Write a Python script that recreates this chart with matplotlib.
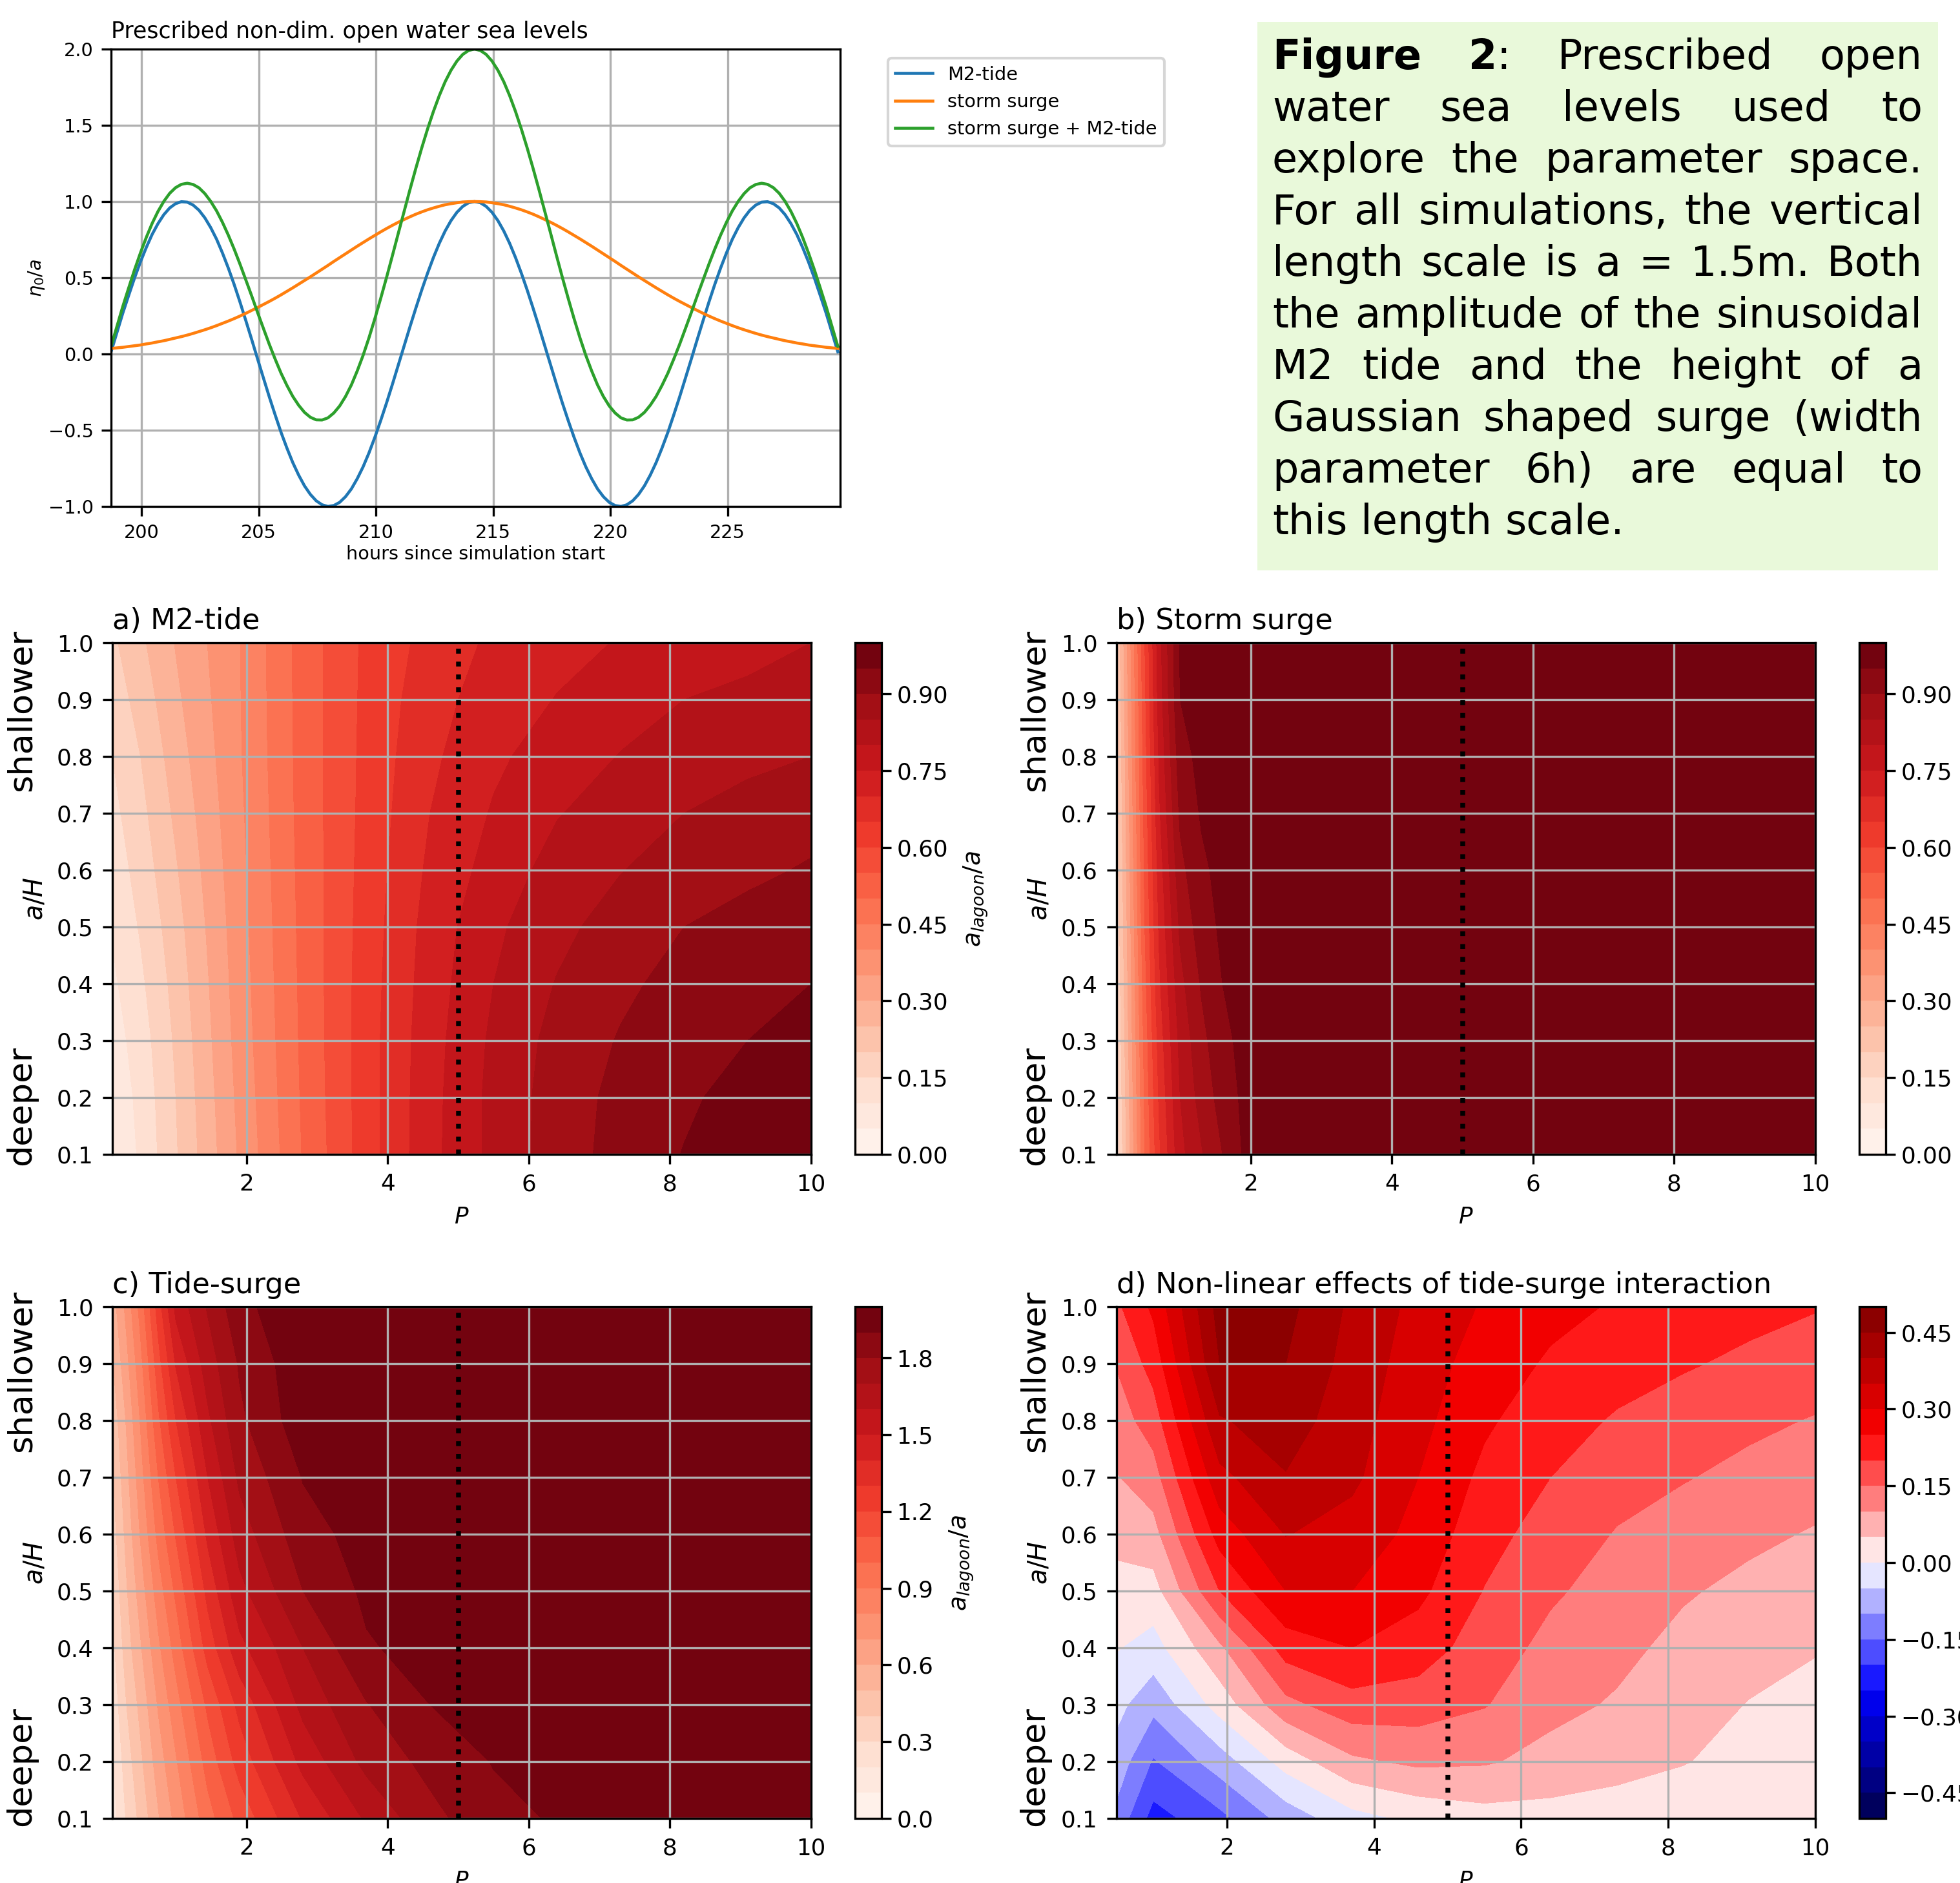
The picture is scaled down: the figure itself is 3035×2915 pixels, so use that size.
import numpy as np
import matplotlib
matplotlib.use("Agg")
import matplotlib.pyplot as plt
from matplotlib.ticker import FuncFormatter

W, H = 3036, 2915

# top panel, read every quarter hour up to the peak at 214.2, the curves are symmetric about it
hours = np.arange(198.7, 229.71, 0.25)
m2_rising = [.014, .141, .268, .384, .498, .603, .698, .784, .855, .914, .958, .986, .999, .996, .977, .943,
             .893, .829, .753, .663, .564, .456, .340, .218, .094, -.033, -.158, -.282, -.400, -.514, -.617,
             -.712, -.794, -.865, -.921, -.963, -.989, -1.000, -.994, -.973, -.936, -.885, -.818, -.740,
             -.649, -.547, -.437, -.321, -.199, -.073, .053, .179, .301, .419, .530, .633, .726, .807, .875,
             .929, .968, .992, 1.000]
surge_rising = [.036, .040, .044, .049, .054, .059, .066, .072, .080, .087, .096, .105, .114, .124, .135, .147,
                .159, .172, .186, .201, .216, .232, .249, .267, .286, .305, .325, .345, .366, .388, .411, .434,
                .458, .482, .506, .531, .556, .581, .607, .632, .657, .682, .707, .731, .755, .778, .801, .823,
                .844, .864, .882, .900, .917, .932, .946, .958, .969, .979, .986, .992, .997, .999, 1.000]
both_rising = [.050, .181, .312, .433, .552, .662, .764, .856, .935, 1.001, 1.054, 1.091, 1.113, 1.120, 1.112,
               1.090, 1.052, 1.001, .939, .864, .780, .688, .589, .485, .380, .272, .167, .063, -.034, -.126,
               -.206, -.278, -.336, -.383, -.415, -.432, -.433, -.419, -.387, -.341, -.279, -.203, -.111, -.009,
               .106, .231, .364, .502, .645, .791, .935, 1.079, 1.218, 1.351, 1.476, 1.591, 1.695, 1.786, 1.861,
               1.921, 1.965, 1.991, 2.000]
m2_tide = m2_rising + m2_rising[-2::-1]
storm_surge = surge_rising + surge_rising[-2::-1]
both = both_rising + both_rising[-2::-1]

a_over_h = [0.1, 0.2, 0.3, 0.4, 0.5, 0.6, 0.7, 0.8, 0.9, 1.0]

# a) M2-tide
p_a = [0.1, 0.5, 1, 1.9, 2.8, 3.7, 4.6, 5.5, 6.4, 7.3, 8.2, 9.1, 10]
z_a = [[.045, .109, .195, .356, .503, .627, .735, .814, .875, .919, .952, .975, .99],
       [.06, .115, .20, .363, .507, .628, .733, .815, .873, .915, .942, .968, .985],
       [.075, .125, .208, .37, .51, .628, .73, .81, .867, .904, .93, .95, .97],
       [.09, .14, .218, .375, .512, .626, .725, .80, .853, .89, .917, .936, .95],
       [.105, .155, .23, .38, .514, .623, .72, .79, .836, .873, .90, .917, .932],
       [.12, .17, .245, .385, .516, .62, .71, .77, .82, .848, .875, .89, .905],
       [.135, .185, .26, .39, .518, .617, .70, .755, .797, .825, .85, .868, .882],
       [.15, .20, .275, .395, .519, .615, .69, .74, .775, .802, .82, .838, .85],
       [.17, .22, .29, .397, .52, .613, .68, .725, .752, .78, .80, .812, .825],
       [.19, .24, .303, .398, .521, .611, .667, .71, .735, .753, .767, .783, .80]]

# b) Storm surge
p_b = [0.1, 0.3, 0.5, 0.7, 1, 1.3, 1.6, 1.9, 2.8, 10]
z_b = [[.12, .31, .50, .64, .785, .845, .90, .955, .985, 1],
       [.13, .32, .51, .655, .80, .87, .92, .96, .985, 1],
       [.14, .33, .52, .67, .815, .885, .935, .965, .985, 1],
       [.15, .34, .535, .69, .835, .905, .95, .97, .99, 1],
       [.16, .35, .55, .705, .86, .925, .96, .975, .99, 1],
       [.165, .36, .56, .72, .885, .94, .965, .98, .99, 1],
       [.175, .37, .57, .74, .91, .955, .97, .98, .99, 1],
       [.18, .38, .58, .755, .93, .965, .975, .985, .99, 1],
       [.19, .39, .59, .77, .95, .97, .98, .985, .99, 1],
       [.20, .40, .60, .78, .955, .97, .98, .985, .99, 1]]

# c) Tide-surge
p_c = [0.1, 0.3, 0.5, 0.75, 1, 1.45, 1.9, 2.8, 3.7, 4.6, 5.5, 6.4, 7.3, 10]
z_c = [[.15, .31, .43, .59, .73, .96, 1.13, 1.41, 1.615, 1.77, 1.87, 1.91, 1.95, 1.98],
       [.19, .35, .48, .65, .79, 1.04, 1.24, 1.53, 1.73, 1.83, 1.905, 1.94, 1.96, 1.985],
       [.23, .40, .53, .71, .86, 1.12, 1.33, 1.63, 1.795, 1.90, 1.94, 1.96, 1.975, 1.99],
       [.27, .45, .59, .78, .94, 1.24, 1.47, 1.70, 1.89, 1.935, 1.96, 1.975, 1.985, 1.99],
       [.31, .49, .65, .85, 1.02, 1.33, 1.57, 1.80, 1.92, 1.95, 1.97, 1.98, 1.99, 1.995],
       [.35, .53, .71, .93, 1.11, 1.42, 1.65, 1.86, 1.94, 1.96, 1.975, 1.985, 1.99, 1.995],
       [.39, .57, .76, 1.0, 1.2, 1.50, 1.72, 1.905, 1.95, 1.97, 1.98, 1.99, 1.99, 2.0],
       [.43, .61, .81, 1.08, 1.3, 1.58, 1.78, 1.96, 1.97, 1.975, 1.985, 1.99, 1.995, 2.0],
       [.49, .67, .87, 1.16, 1.41, 1.65, 1.81, 1.97, 1.98, 1.985, 1.99, 1.99, 1.995, 2.0],
       [.55, .73, .94, 1.25, 1.53, 1.71, 1.87, 1.98, 1.985, 1.99, 1.99, 1.995, 2.0, 2.0]]

# d) Non-linear effects
p_d = [0.5, 1, 1.9, 2.8, 3.7, 4.6, 5.5, 6.4, 7.3, 8.2, 9.1, 10]
z_d = [[-.115, -.22, -.165, -.08, -.018, .012, .03, .03, .025, .012, .005, .002],
       [-.07, -.155, -.075, .02, .09, .11, .105, .085, .068, .053, .03, .02],
       [-.035, -.085, .02, .135, .18, .175, .153, .113, .095, .07, .048, .04],
       [.003, -.02, .09, .222, .25, .225, .175, .136, .112, .087, .068, .052],
       [.032, .03, .20, .30, .30, .262, .198, .157, .13, .105, .088, .075],
       [.065, .082, .27, .352, .33, .285, .218, .178, .147, .128, .11, .096],
       [.097, .128, .335, .397, .36, .30, .238, .20, .168, .153, .137, .12],
       [.125, .175, .395, .425, .37, .315, .258, .22, .195, .177, .16, .147],
       [.153, .22, .45, .45, .38, .325, .277, .243, .22, .205, .19, .175],
       [.19, .26, .47, .465, .39, .335, .295, .265, .245, .23, .215, .203]]

levels_ab = np.arange(0, 1.001, 0.05)
levels_c = np.arange(0, 2.001, 0.1)
levels_d = np.arange(-0.5, 0.5001, 0.05)
ticks_ab = [0, .15, .30, .45, .60, .75, .90]
ticks_c = [0, .3, .6, .9, 1.2, 1.5, 1.8]
ticks_d = [-.45, -.30, -.15, 0, .15, .30, .45]

caption = [[[("Figure", "bold")], [("2", "bold"), (":", "normal")], [("Prescribed", "normal")], [("open", "normal")]],
           "water sea levels used to",
           "explore the parameter space.",
           "For all simulations, the vertical",
           "length scale is a = 1.5m. Both",
           "the amplitude of the sinusoidal",
           "M2 tide and the height of a",
           "Gaussian shaped surge (width",
           "parameter 6h) are equal to",
           "this length scale."]


def add_axes_px(fig, left, top, right, bottom):
    return fig.add_axes([left / W, 1 - bottom / H, (right - left) / W, (bottom - top) / H])


fig = plt.figure(figsize=(W / 300, H / 300), dpi=300)

# time series panel
ax = add_axes_px(fig, 172, 76, 1301, 784)
ax.plot(hours, m2_tide, lw=1.1, label="M2-tide")
ax.plot(hours, storm_surge, lw=1.1, label="storm surge")
ax.plot(hours, both, lw=1.1, label="storm surge + M2-tide")
ax.set_xlim(198.7, 229.8)
ax.set_ylim(-1, 2)
ax.set_xticks([200, 205, 210, 215, 220, 225])
ax.grid(True)
ax.tick_params(labelsize=6.9, pad=3)
ax.set_title("Prescribed non-dim. open water sea levels", loc="left", fontsize=8.35, pad=4)
ax.set_xlabel("hours since simulation start", fontsize=6.9, labelpad=1.2)
ax.set_ylabel(r"$\eta_0/a$", fontsize=6.9, labelpad=0.8)
ax.legend(loc="upper left", bbox_to_anchor=(1375 / W, 1 - 90 / H), bbox_transform=fig.transFigure,
          fontsize=6.9, borderaxespad=0)


def draw_panel(top, left, cbar_left, p, z, levels, ticks, fmt, cmap, title, word_dx, word_dy=0.0, label=False):
    bottom = top + 792
    right = left + 1082
    ax = add_axes_px(fig, left, top, right, bottom)
    cf = ax.contourf(p, a_over_h, z, levels=levels, cmap=cmap)
    ax.axvline(5, color="k", ls=":", lw=1.8)
    ax.grid(True)
    ax.set_xticks([2, 4, 6, 8, 10])
    ax.set_yticks(a_over_h)
    ax.tick_params(labelsize=8.6)
    ax.set_title(title, loc="left", fontsize=10.75, pad=5)
    ax.set_xlabel(r"$P$", fontsize=8.6)
    ax.set_ylabel(r"$a/H$", fontsize=9.5)
    ax.yaxis.set_label_coords(-0.092, 0.5)
    ax.text(-word_dx, 0.868 + word_dy, "shallower", transform=ax.transAxes, rotation=90, fontsize=12.6,
            ha="center", va="center")
    ax.text(-word_dx, 0.095 + word_dy, "deeper", transform=ax.transAxes, rotation=90, fontsize=12.6,
            ha="center", va="center")
    cax = add_axes_px(fig, cbar_left, top, cbar_left + 41, bottom)
    # true minus sign on the colour bar, as on the axes
    cb = fig.colorbar(cf, cax=cax, ticks=ticks,
                      format=FuncFormatter(lambda v, pos: (fmt % v).replace("-", "\u2212")))
    cb.ax.tick_params(labelsize=8.6, pad=2.1)
    if label:
        cb.set_label(r"$a_{lagoon}/a$", fontsize=9.1, labelpad=5.2)


draw_panel(995, 174, 1324, p_a, z_a, levels_ab, ticks_ab, "%.2f", "Reds", "a) M2-tide", 0.13, label=True)
draw_panel(995, 1729, 2879, p_b, z_b, levels_ab, ticks_ab, "%.2f", "Reds", "b) Storm surge", 0.117)
draw_panel(2023, 174, 1324, p_c, z_c, levels_c, ticks_c, "%.1f", "Reds", "c) Tide-surge", 0.13, 0.007, label=True)
draw_panel(2023, 1729, 2879, p_d, z_d, levels_d, ticks_d, "%.2f", "seismic",
           "d) Non-linear effects of tide-surge interaction", 0.117, 0.007)

# caption box, justified word by word
fig.patches.append(plt.Rectangle((1947 / W, 1 - 883 / H), (3001 - 1947) / W, (883 - 34) / H,
                                 transform=fig.transFigure, color="#e9f9da", lw=0, figure=fig))
renderer = fig.canvas.get_renderer()
box_left, box_right = 1970, 2977
font_size = 15.3


def run_width(s, weight):
    t = fig.text(0, 0, s, fontsize=font_size, fontweight=weight)
    w = t.get_window_extent(renderer).width
    t.remove()
    return w


for i, line in enumerate(caption):
    words = line if isinstance(line, list) else [[(w, "normal")] for w in line.split()]
    widths = [sum(run_width(s, wt) for s, wt in word) for word in words]
    gap = (box_right - box_left - sum(widths)) / (len(words) - 1)
    if i == len(caption) - 1:
        gap = font_size * 300 / 72 * 0.32
    x = box_left
    y = 107 + 80 * i
    for word, width in zip(words, widths):
        rx = x
        for s, wt in word:
            fig.text(rx / W, 1 - y / H, s, fontsize=font_size, fontweight=wt, va="baseline")
            rx += run_width(s, wt)
        x += width + gap

fig.savefig("out.png", dpi=300)
